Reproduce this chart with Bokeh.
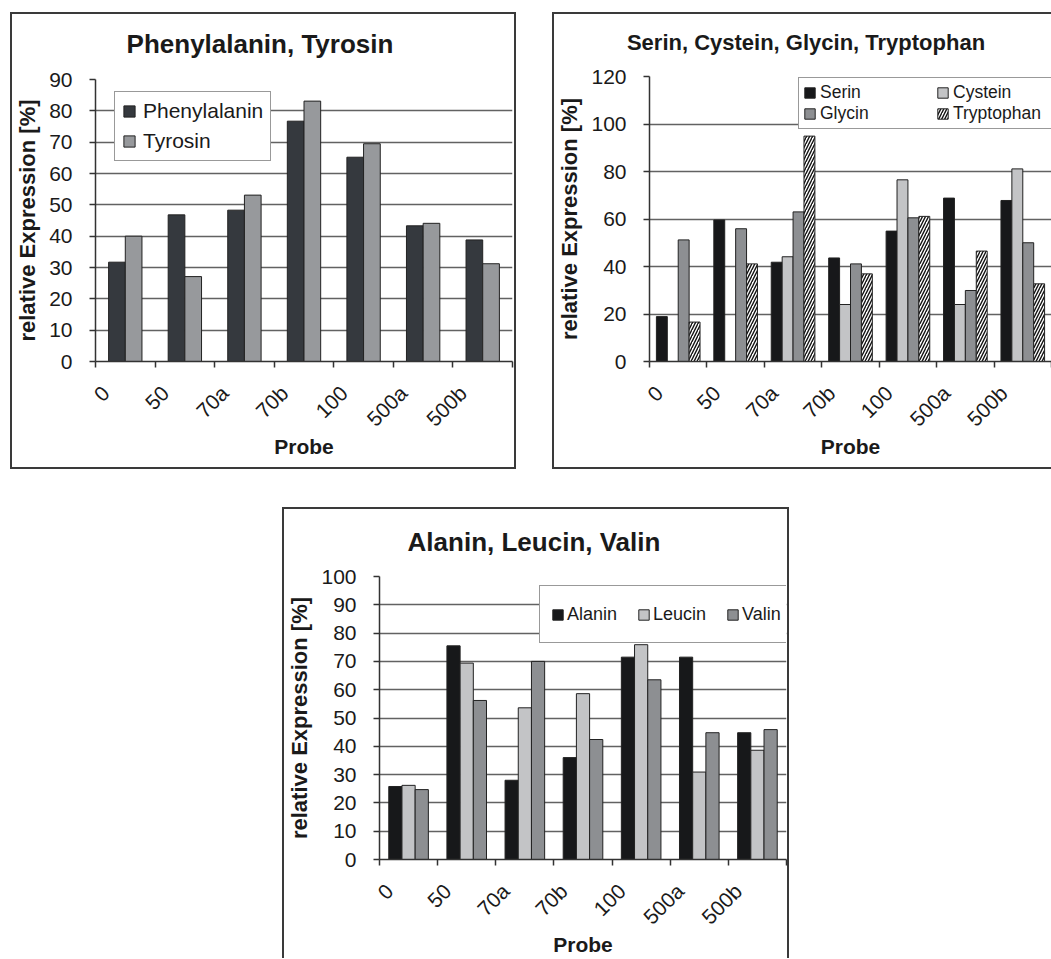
import math
from bokeh.plotting import figure
from bokeh.models import (ColumnDataSource, FixedTicker, Legend, LegendItem,
                          Range1d, Spacer, Div)
from bokeh.layouts import column, row
from bokeh.embed import file_html
from bokeh.resources import INLINE

# ---------------- data ----------------
probes = ["0", "50", "70a", "70b", "100", "500a", "500b"]

phenylalanin = [31.7, 46.8, 48.3, 76.7, 65.2, 43.3, 38.8]
tyrosin = [40.0, 27.1, 53.1, 83.1, 69.5, 44.1, 31.2]

serin = [18.9, 59.6, 41.8, 43.6, 54.9, 68.8, 67.8]
cystein = [None, None, 44.1, 24.0, 76.5, 24.0, 81.1]
glycin = [51.2, 55.9, 63.0, 41.1, 60.5, 29.9, 50.0]
tryptophan = [16.6, 41.1, 94.9, 36.9, 61.1, 46.5, 32.7]

alanin = [25.8, 75.5, 28.0, 36.0, 71.5, 71.5, 44.8]
leucin = [26.2, 69.4, 53.6, 58.6, 75.9, 30.9, 38.6]
valin = [24.7, 56.2, 70.0, 42.4, 63.5, 44.8, 45.9]

titles = ["Phenylalanin, Tyrosin", "Serin, Cystein, Glycin, Tryptophan",
          "Alanin, Leucin, Valin"]

FONT = "Liberation Sans"
TXT = "#1a1a1a"
BORDER = "2px solid #3a3a3a"
SHIFT = 0.33


def title_div(text, width, height, inner_w, center, size, line_h, pad_top, border_styles):
    if 2 * center > inner_w:
        pad = f"padding-left:{2 * center - inner_w}px;"
    else:
        pad = f"padding-right:{inner_w - 2 * center}px;"
    html = (f'<div style="box-sizing:border-box; width:{inner_w}px; {pad} '
            f'padding-top:{pad_top}px; text-align:center; white-space:nowrap; '
            f"font-family:'{FONT}'; font-weight:bold; font-size:{size}px; "
            f'line-height:{line_h}px; color:{TXT};">{text}</div>')
    st = {"background-color": "white"}
    st.update(border_styles)
    return Div(text=html, width=width, height=height, styles=st, margin=0)


def make_panel(names, series, colors, hatches, ymax, yint, bar_w,
               width, height, mb, label_shift):
    n_cat = len(probes)
    p = figure(width=width, height=height,
               x_range=Range1d(0, n_cat), y_range=Range1d(0, ymax),
               output_backend="svg", toolbar_location=None,
               min_border_left=mb[0], min_border_right=mb[1],
               min_border_top=mb[2], min_border_bottom=mb[3],
               background_fill_color="white", border_fill_color="white")
    p.outline_line_color = None
    p.xgrid.grid_line_color = None
    p.ygrid.grid_line_color = "#626262"
    p.ygrid.grid_line_width = 1.3

    # x axis: boundary ticks as minor ticks, labels at shifted centres
    label_pos = [i + 0.5 - label_shift for i in range(n_cat)]
    bounds = [float(i) for i in range(n_cat + 1)]
    xa = p.xaxis[0]
    xa.ticker = FixedTicker(ticks=label_pos, minor_ticks=bounds)
    xa.major_label_overrides = {v: lab for v, lab in zip(label_pos, probes)}
    xa.major_tick_out = 0
    xa.major_tick_in = 0
    xa.minor_tick_out = 6
    xa.minor_tick_in = 0
    xa.minor_tick_line_color = "#333333"
    xa.minor_tick_line_width = 1.5
    xa.axis_line_color = "#333333"
    xa.axis_line_width = 1.5
    xa.major_label_orientation = math.pi / 4
    xa.major_label_text_font = FONT
    xa.major_label_text_font_size = "21px"
    xa.major_label_text_color = TXT
    xa.major_label_standoff = 22
    xa.axis_label = "Probe"
    xa.axis_label_text_font = FONT
    xa.axis_label_text_font_size = "21px"
    xa.axis_label_text_font_style = "bold"
    xa.axis_label_text_color = TXT
    xa.axis_label_standoff = -7

    ya = p.yaxis[0]
    ya.ticker = FixedTicker(ticks=list(range(0, ymax + 1, yint)))
    ya.minor_tick_line_color = None
    ya.major_tick_out = 6
    ya.major_tick_in = 0
    ya.major_tick_line_color = "#333333"
    ya.major_tick_line_width = 1.5
    ya.axis_line_color = "#333333"
    ya.axis_line_width = 1.5
    ya.major_label_text_font = FONT
    ya.major_label_text_font_size = "21px"
    ya.major_label_text_color = TXT
    ya.major_label_standoff = 17
    ya.axis_label = "relative Expression [%]"
    ya.axis_label_text_font = FONT
    ya.axis_label_text_font_size = "22px"
    ya.axis_label_text_font_style = "bold"
    ya.axis_label_text_color = TXT
    ya.axis_label_standoff = 6

    n = len(series)
    renderers = []
    for k, (vals, col, hat) in enumerate(zip(series, colors, hatches)):
        xs = [i + 0.5 + (k - (n - 1) / 2) * bar_w for i in range(n_cat)]
        src = ColumnDataSource(dict(x=xs, top=[float("nan") if v is None else v for v in vals]))
        kw = {}
        if hat:
            kw = dict(hatch_pattern=hat, hatch_color="#111111", hatch_scale=6,
                      hatch_weight=1.4)
        r = p.vbar(x="x", top="top", bottom=0, width=bar_w, source=src,
                   fill_color=col, line_color="#222222", line_width=1, **kw)
        renderers.append(r)
    items = [LegendItem(label=nm, renderers=[r]) for nm, r in zip(names, renderers)]
    return p, items


def style_legend(lg, font_size):
    lg.label_text_font = FONT
    lg.label_text_font_size = f"{font_size}px"
    lg.label_text_color = TXT
    lg.border_line_color = "#333333"
    lg.border_line_width = 1.5
    lg.background_fill_alpha = 1.0
    lg.background_fill_color = "white"


# ---------------- panel 1 ----------------
d1 = title_div(titles[0], 506, 48, 502, 248, 26, 28, 16,
               {"border-top": BORDER, "border-left": BORDER, "border-right": BORDER})
p1, it1 = make_panel(["Phenylalanin", "Tyrosin"],
                     [phenylalanin, tyrosin], ["#35393e", "#97999c"], [None, None],
                     90, 10, 0.28, 506, 409, (81, 6, 19, 108), SHIFT)
lg1 = Legend(items=it1, location=(19, 200), orientation="vertical",
             glyph_width=14, glyph_height=14, label_height=24, label_standoff=7,
             padding=7, spacing=6, margin=0)
style_legend(lg1, 21)
p1.add_layout(lg1, "center")
p1.styles = {"border-left": BORDER, "border-right": BORDER, "border-bottom": BORDER}

# ---------------- panel 2 ----------------
d2 = title_div(titles[1], 499, 48, 497, 252, 22, 26, 16,
               {"border-top": BORDER, "border-left": BORDER})
p2, it2 = make_panel(["Serin", "Cystein", "Glycin", "Tryptophan"],
                     [serin, cystein, glycin, tryptophan],
                     ["#17181a", "#c3c4c6", "#8d8f92", "white"],
                     [None, None, None, "right_diagonal_line"],
                     120, 20, 0.19, 499, 409, (94, 2, 16, 108), SHIFT)
lg2 = Legend(items=it2, location=(149, 232), orientation="horizontal",
             nrows=2, glyph_width=13, glyph_height=13, label_height=19,
             label_width=116, label_standoff=4, padding=4, spacing=0, margin=0)
style_legend(lg2, 17.5)
p2.add_layout(lg2, "center")
p2.styles = {"border-left": BORDER, "border-bottom": BORDER}

# ---------------- panel 3 ----------------
d3 = title_div(titles[2], 507, 48, 503, 250, 26, 26, 20,
               {"border-top": BORDER, "border-left": BORDER, "border-right": BORDER})
p3, it3 = make_panel(["Alanin", "Leucin", "Valin"],
                     [alanin, leucin, valin], ["#17181a", "#c3c4c6", "#8d8f92"],
                     [None, None, None],
                     100, 10, 0.227, 507, 403, (93, 5, 21, 99), SHIFT)
lg3 = Legend(items=it3, location=(160, 216), orientation="horizontal",
             glyph_width=13, glyph_height=13, label_height=34, label_width=38,
             label_standoff=3, padding=11, spacing=20, margin=0)
style_legend(lg3, 18)
p3.add_layout(lg3, "center")
p3.styles = {"border-left": BORDER, "border-right": BORDER}

top = row(Spacer(width=10, height=10), column(d1, p1), Spacer(width=36, height=10),
          column(d2, p2))
bottom = row(Spacer(width=282, height=10), column(d3, p3))
layout = column(Spacer(width=10, height=12), top, Spacer(width=10, height=38), bottom)

open("out.html", "w").write(file_html(layout, INLINE))
